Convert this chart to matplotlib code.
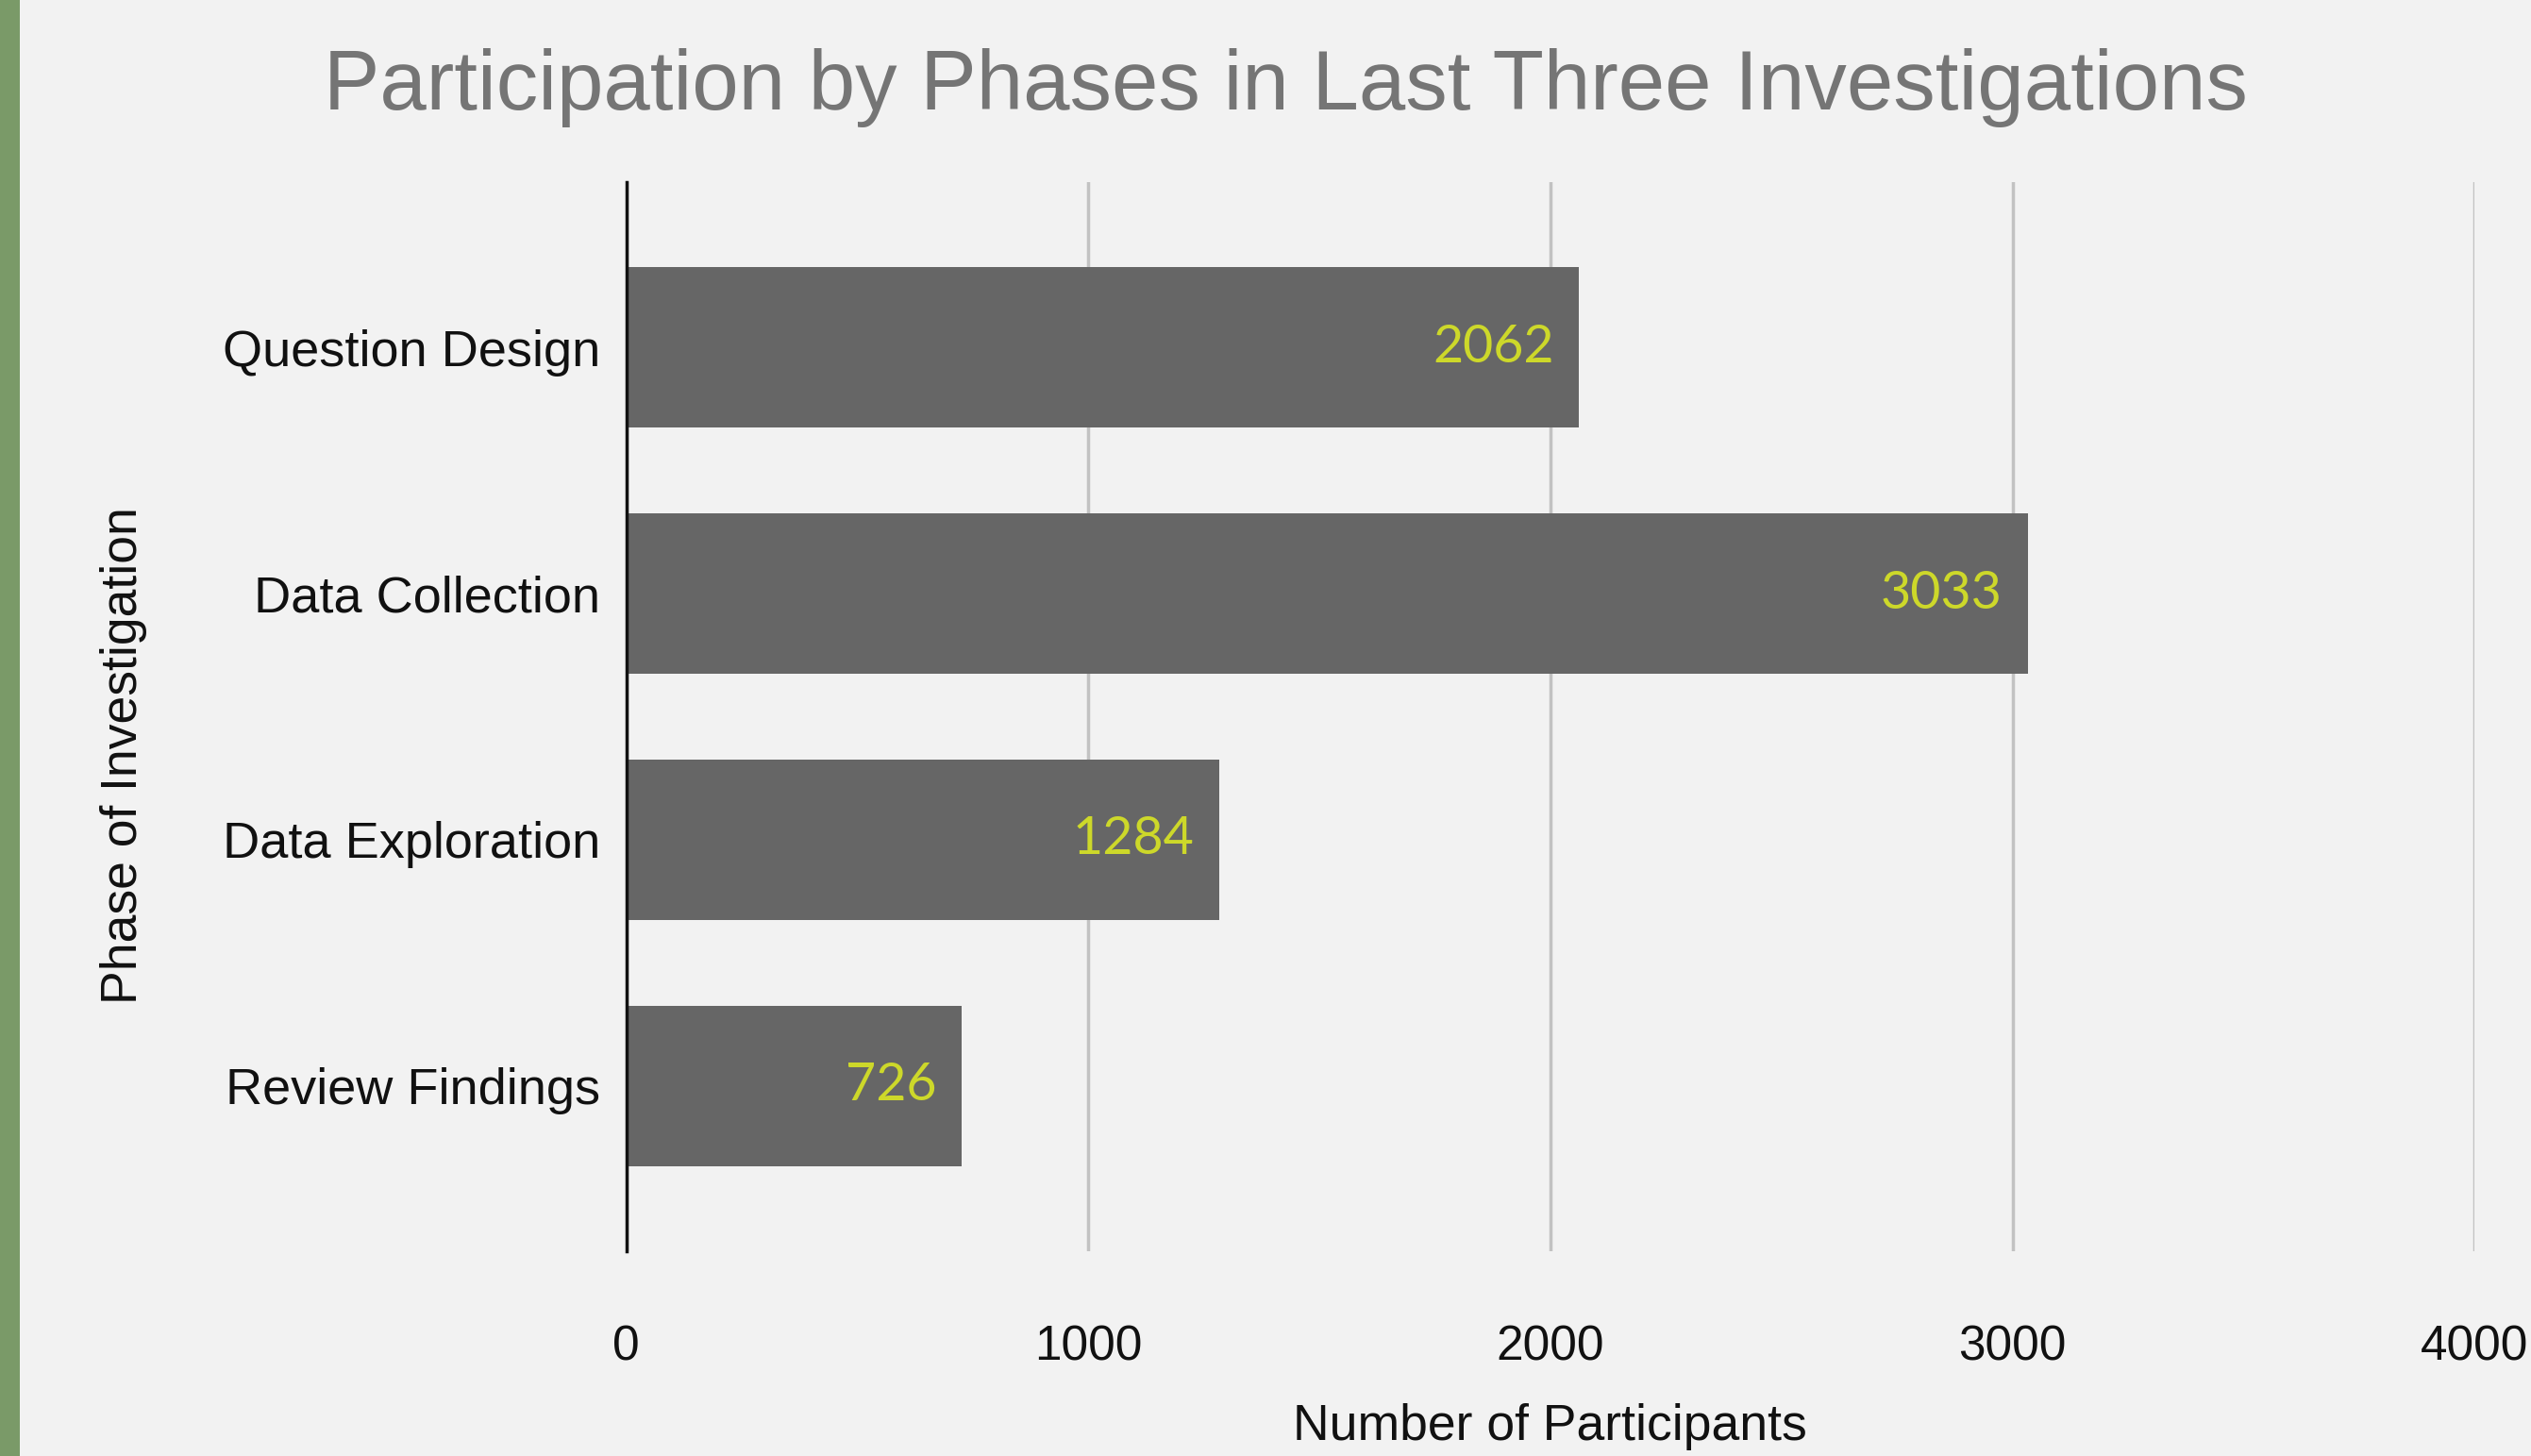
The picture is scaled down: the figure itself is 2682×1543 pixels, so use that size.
import matplotlib
matplotlib.use("Agg")
import matplotlib.pyplot as plt
from matplotlib.patches import Rectangle

categories = ["Question Design", "Data Collection", "Data Exploration", "Review Findings"]
values = [2062, 3033, 1284, 726]
xticks = [0, 1000, 2000, 3000, 4000]

plt.rcParams['font.family'] = ['Liberation Sans', 'DejaVu Sans']

fig = plt.figure(figsize=(26.82, 15.43), dpi=100, facecolor='#f2f2f2')
ax = fig.add_axes([0.2475, 0.1409, 0.7302, 0.7338])
ax.set_facecolor('#f2f2f2')

# green strip on left
fig.patches.append(Rectangle((0, 0), 21 / 2682, 1, transform=fig.transFigure,
                             facecolor='#7a9a68', edgecolor='none', zorder=0))

ypos = list(range(len(categories)))
ax.barh(ypos, values, height=0.65, color='#666666', zorder=2)
ax.set_ylim(len(categories) - 1 + 0.67, -0.67)
ax.set_xlim(0, 4000)
ax.set_xticks(xticks)
ax.set_xticklabels([str(t) for t in xticks], fontsize=37, color='#111111')
ax.set_yticks(ypos)
ax.set_yticklabels(categories, fontsize=39, color='#111111')
ax.tick_params(axis='both', length=0)
ax.tick_params(axis='y', pad=20)
ax.tick_params(axis='x', pad=56)
ax.grid(axis='x', color='#c2c2c2', linewidth=2.5, zorder=1)
for s in ['top', 'right', 'bottom']:
    ax.spines[s].set_visible(False)
ax.spines['left'].set_color('#111111')
ax.spines['left'].set_linewidth(2.5)
ax.spines['left'].set_zorder(3)

for y, v in zip(ypos, values):
    ax.text(v - 55, y, str(v), ha='right', va='center', fontsize=40,
            color='#cdd82a', family=['Lato', 'DejaVu Sans'], zorder=4)

fig.text(0.508, 0.94, "Participation by Phases in Last Three Investigations",
         ha='center', va='center', fontsize=64, color='#757575')
fig.text(0.049, 0.481, "Phase of Investigation", rotation=90,
         ha='center', va='center', fontsize=38.5, color='#111111')
fig.text(0.6125, 0.02, "Number of Participants",
         ha='center', va='center', fontsize=38.5, color='#111111')

fig.savefig("out.png", dpi=100, facecolor=fig.get_facecolor())
